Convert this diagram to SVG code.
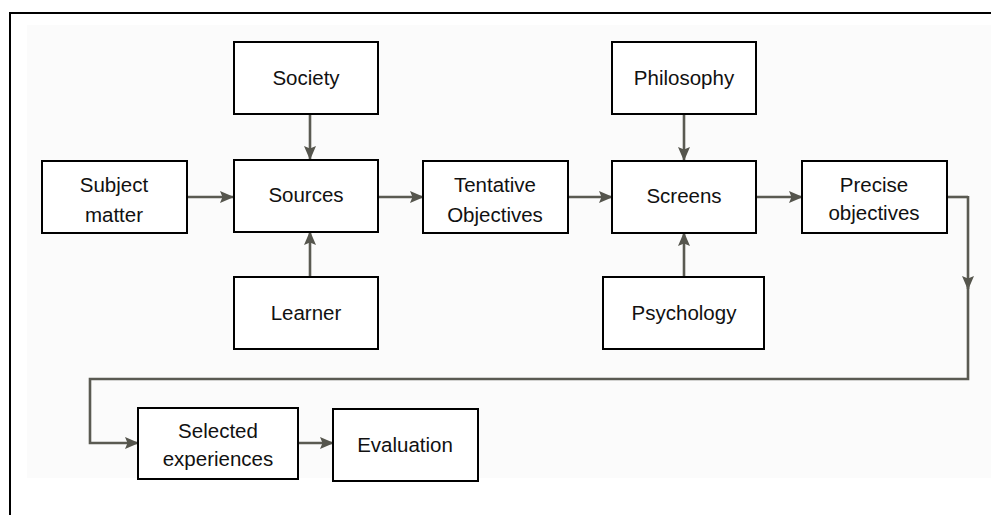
<svg xmlns="http://www.w3.org/2000/svg" width="991" height="515" viewBox="0 0 991 515">
  <defs>
    <marker id="arrow" viewBox="0 0 14 12" refX="13" refY="6" markerWidth="14" markerHeight="12" markerUnits="userSpaceOnUse" orient="auto">
      <path d="M0,0 L14,6 L0,12 L2.5,6 Z" fill="#55554d"/>
    </marker>
    <style>
      .box { fill: #ffffff; stroke: #000000; stroke-width: 2; }
      .lbl { font-family: "Liberation Sans", Arial, sans-serif; font-size: 20.5px; fill: #111111; text-anchor: middle; }
      .wire { fill: none; stroke: #5a5a52; stroke-width: 2.6; }
    </style>
  </defs>

  <rect x="0" y="0" width="991" height="515" fill="#ffffff"/>
  <!-- paper backdrop -->
  <rect x="27" y="25" width="964" height="453" fill="#fbfbfb"/>

  <!-- frame -->
  <path d="M10,515 L10,13 L991,13" fill="none" stroke="#000000" stroke-width="2"/>

  <g id="connectors">
    <line class="wire" x1="187" y1="197" x2="233" y2="197" marker-end="url(#arrow)"/>
    <line class="wire" x1="310" y1="114" x2="310" y2="159" marker-end="url(#arrow)"/>
    <line class="wire" x1="310" y1="277" x2="310" y2="232" marker-end="url(#arrow)"/>
    <line class="wire" x1="378" y1="197" x2="423" y2="197" marker-end="url(#arrow)"/>
    <line class="wire" x1="568" y1="197" x2="612" y2="197" marker-end="url(#arrow)"/>
    <line class="wire" x1="684" y1="114" x2="684" y2="160" marker-end="url(#arrow)"/>
    <line class="wire" x1="684" y1="277" x2="684" y2="233" marker-end="url(#arrow)"/>
    <line class="wire" x1="756" y1="197" x2="802" y2="197" marker-end="url(#arrow)"/>
    <line class="wire" x1="947" y1="197" x2="968" y2="197"/>
    <line class="wire" x1="968" y1="196" x2="968" y2="289" marker-end="url(#arrow)"/>
    <polyline class="wire" points="968,285 968,379 90,379 90,443 138,443" marker-end="url(#arrow)"/>
    <line class="wire" x1="298" y1="443" x2="333" y2="443" marker-end="url(#arrow)"/>
  </g>

  <g id="society">
    <rect class="box" x="234" y="42" width="144" height="72"/>
    <text class="lbl" x="306" y="85">Society</text>
  </g>
  <g id="subject-matter">
    <rect class="box" x="42" y="161" width="145" height="72"/>
    <text class="lbl" x="114" y="192">Subject</text>
    <text class="lbl" x="114" y="222">matter</text>
  </g>
  <g id="sources">
    <rect class="box" x="234" y="160" width="144" height="72"/>
    <text class="lbl" x="306" y="202">Sources</text>
  </g>
  <g id="learner">
    <rect class="box" x="234" y="277" width="144" height="72"/>
    <text class="lbl" x="306" y="320">Learner</text>
  </g>
  <g id="tentative-objectives">
    <rect class="box" x="423" y="161" width="145" height="72"/>
    <text class="lbl" x="495" y="192">Tentative</text>
    <text class="lbl" x="495" y="222">Objectives</text>
  </g>
  <g id="philosophy">
    <rect class="box" x="612" y="42" width="144" height="72"/>
    <text class="lbl" x="684" y="85">Philosophy</text>
  </g>
  <g id="screens">
    <rect class="box" x="612" y="161" width="144" height="72"/>
    <text class="lbl" x="684" y="203">Screens</text>
  </g>
  <g id="psychology">
    <rect class="box" x="603" y="277" width="161" height="72"/>
    <text class="lbl" x="684" y="320">Psychology</text>
  </g>
  <g id="precise-objectives">
    <rect class="box" x="802" y="161" width="145" height="72"/>
    <text class="lbl" x="874" y="192">Precise</text>
    <text class="lbl" x="874" y="220">objectives</text>
  </g>
  <g id="selected-experiences">
    <rect class="box" x="138" y="408" width="160" height="71"/>
    <text class="lbl" x="218" y="438">Selected</text>
    <text class="lbl" x="218" y="466">experiences</text>
  </g>
  <g id="evaluation">
    <rect class="box" x="333" y="409" width="145" height="72"/>
    <text class="lbl" x="405" y="452">Evaluation</text>
  </g>
</svg>
